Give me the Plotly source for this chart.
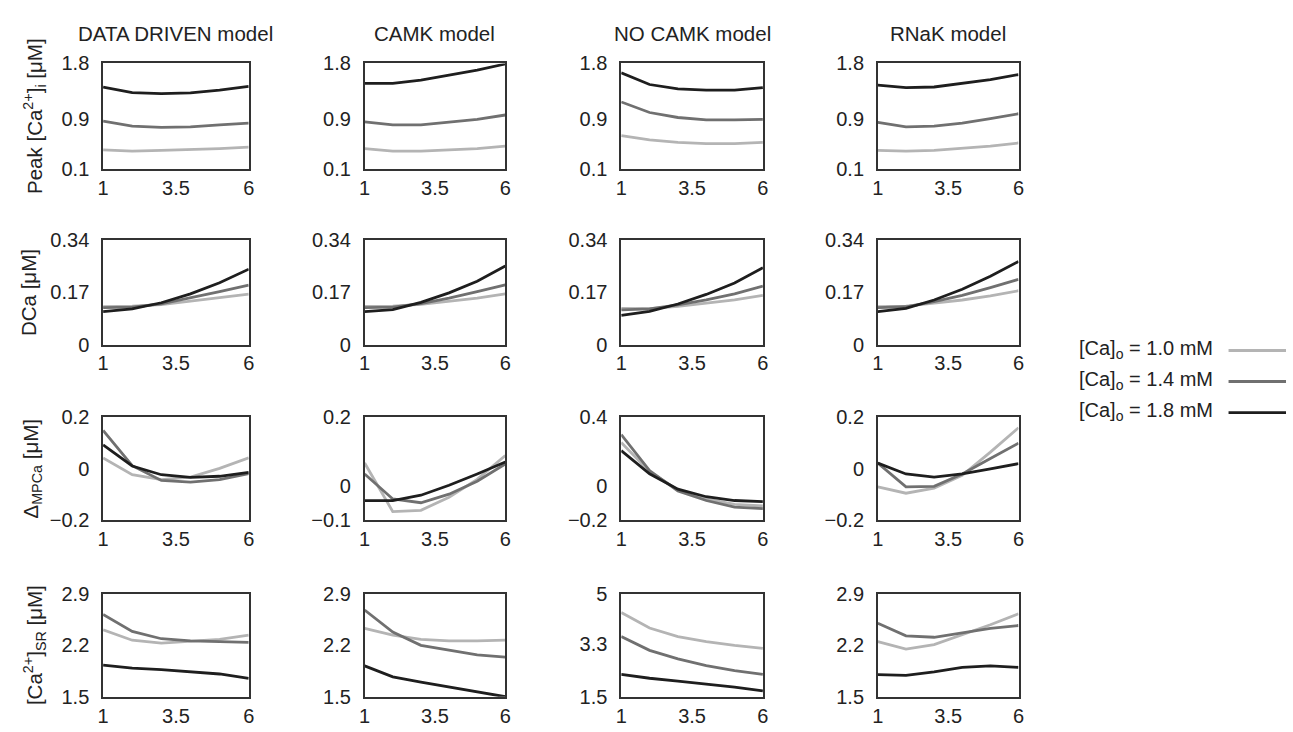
import plotly.graph_objects as go

W, H = 1293, 732
x_vals = [1, 2, 3, 4, 5, 6]
x_ticks = [1, 3.5, 6]
x_tick_labels = ["1", "3.5", "6"]

models = ["DATA DRIVEN model", "CAMK model", "NO CAMK model", "RNaK model"]
series_names = ["[Ca]<sub>o</sub> = 1.0 mM", "[Ca]<sub>o</sub> = 1.4 mM", "[Ca]<sub>o</sub> = 1.8 mM"]
series_colors = ["#b4b4b4", "#707070", "#1e1e1e"]

row_titles = ["Peak [Ca<sup>2+</sup>]<sub>i</sub> [μM]", "DCa [μM]",
              "Δ<sub>MPCa</sub> [μM]", "[Ca<sup>2+</sup>]<sub>SR</sub> [μM]"]

# Peak [Ca2+]i  (low, mid, high [Ca]o) per model
peak_dd = [[0.41, 0.39, 0.40, 0.41, 0.43, 0.455],
           [0.87, 0.79, 0.77, 0.78, 0.81, 0.84],
           [1.42, 1.33, 1.315, 1.325, 1.37, 1.43]]
peak_camk = [[0.43, 0.39, 0.39, 0.41, 0.43, 0.47],
             [0.86, 0.81, 0.81, 0.85, 0.90, 0.97],
             [1.48, 1.48, 1.53, 1.61, 1.69, 1.79]]
peak_nocamk = [[0.64, 0.57, 0.53, 0.51, 0.51, 0.53],
               [1.18, 1.01, 0.93, 0.89, 0.89, 0.90],
               [1.65, 1.46, 1.39, 1.37, 1.37, 1.41]]
peak_rnak = [[0.40, 0.39, 0.40, 0.43, 0.47, 0.52],
             [0.85, 0.78, 0.79, 0.84, 0.91, 0.99],
             [1.45, 1.41, 1.42, 1.48, 1.54, 1.62]]

# DCa
dca_dd = [[0.123, 0.125, 0.130, 0.141, 0.151, 0.164],
          [0.120, 0.122, 0.132, 0.151, 0.172, 0.193],
          [0.107, 0.116, 0.136, 0.165, 0.201, 0.245]]
dca_camk = [[0.124, 0.125, 0.131, 0.141, 0.151, 0.165],
            [0.120, 0.122, 0.133, 0.151, 0.172, 0.194],
            [0.107, 0.114, 0.137, 0.168, 0.206, 0.255]]
dca_nocamk = [[0.118, 0.117, 0.124, 0.134, 0.145, 0.160],
              [0.113, 0.116, 0.129, 0.145, 0.165, 0.190],
              [0.095, 0.108, 0.132, 0.163, 0.200, 0.250]]
dca_rnak = [[0.123, 0.125, 0.135, 0.145, 0.158, 0.175],
            [0.120, 0.123, 0.140, 0.160, 0.185, 0.212],
            [0.107, 0.118, 0.145, 0.180, 0.222, 0.270]]

# Delta MPCa
mpca_dd = [[0.042, -0.023, -0.042, -0.032, 0.002, 0.043],
           [0.149, 0.012, -0.045, -0.052, -0.042, -0.019],
           [0.093, 0.011, -0.023, -0.033, -0.029, -0.014]]
mpca_camk = [[0.067, -0.075, -0.071, -0.033, 0.019, 0.089],
             [0.035, -0.038, -0.049, -0.024, 0.014, 0.064],
             [-0.043, -0.043, -0.027, 0.002, 0.035, 0.070]]
mpca_nocamk = [[0.253, 0.084, -0.023, -0.076, -0.108, -0.117],
               [0.300, 0.090, -0.029, -0.085, -0.123, -0.132],
               [0.206, 0.071, -0.019, -0.063, -0.085, -0.091]]
mpca_rnak = [[-0.07, -0.095, -0.075, -0.025, 0.065, 0.160],
             [0.022, -0.070, -0.068, -0.020, 0.040, 0.100],
             [0.022, -0.020, -0.032, -0.020, 0.000, 0.020]]

# [Ca2+]SR
sr_dd = [[2.41, 2.27, 2.23, 2.25, 2.28, 2.34],
         [2.62, 2.39, 2.29, 2.26, 2.25, 2.24],
         [1.93, 1.89, 1.87, 1.84, 1.81, 1.75]]
sr_camk = [[2.43, 2.34, 2.28, 2.26, 2.26, 2.27],
           [2.68, 2.38, 2.20, 2.13, 2.07, 2.04],
           [1.92, 1.77, 1.70, 1.63, 1.57, 1.50]]
sr_nocamk = [[4.37, 3.84, 3.55, 3.38, 3.25, 3.15],
             [3.55, 3.08, 2.79, 2.56, 2.39, 2.26],
             [2.26, 2.13, 2.03, 1.93, 1.83, 1.70]]
sr_rnak = [[2.25, 2.15, 2.21, 2.34, 2.48, 2.63],
           [2.50, 2.33, 2.31, 2.37, 2.43, 2.47],
           [1.80, 1.79, 1.84, 1.90, 1.92, 1.90]]

data = [
    [peak_dd, peak_camk, peak_nocamk, peak_rnak],
    [dca_dd, dca_camk, dca_nocamk, dca_rnak],
    [mpca_dd, mpca_camk, mpca_nocamk, mpca_rnak],
    [sr_dd, sr_camk, sr_nocamk, sr_rnak],
]

y_ticks = [
    [[0.1, 0.9, 1.8]] * 4,
    [[0, 0.17, 0.34]] * 4,
    [[-0.2, 0, 0.2], [-0.1, 0, 0.2], [-0.2, 0, 0.4], [-0.2, 0, 0.2]],
    [[1.5, 2.2, 2.9], [1.5, 2.2, 2.9], [1.5, 3.3, 5], [1.5, 2.2, 2.9]],
]
y_tick_labels = [
    [["0.1", "0.9", "1.8"]] * 4,
    [["0", "0.17", "0.34"]] * 4,
    [["−0.2", "0", "0.2"], ["−0.1", "0", "0.2"], ["−0.2", "0", "0.4"], ["−0.2", "0", "0.2"]],
    [["1.5", "2.2", "2.9"], ["1.5", "2.2", "2.9"], ["1.5", "3.3", "5"], ["1.5", "2.2", "2.9"]],
]

# layout geometry (pixels)
col_px = [(98, 245), (362, 504), (621, 764), (880, 1022)]
row_px = [(54, 163), (236, 344), (419, 525), (601, 707)]
row_title_x = [29, 22, 26, 29]

FONT = "Liberation Sans, Arial, sans-serif"
TXT = "#222"
fig = go.Figure()
layout = dict(
    width=W, height=H, margin=dict(l=0, r=0, t=0, b=0),
    paper_bgcolor="white", plot_bgcolor="white", showlegend=False,
    font=dict(family=FONT, size=20, color=TXT),
)
annotations = []
shapes = []

for r in range(4):
    for c in range(4):
        idx = r * 4 + c + 1
        xa = "x" if idx == 1 else f"x{idx}"
        ya = "y" if idx == 1 else f"y{idx}"
        for s in range(3):
            fig.add_trace(go.Scatter(
                x=x_vals, y=data[r][c][s], mode="lines",
                line=dict(color=series_colors[s], width=2.8),
                xaxis=xa, yaxis=ya, showlegend=False, hoverinfo="skip"))
        x0, x1 = col_px[c]
        y0, y1 = row_px[r]
        yt = y_ticks[r][c]
        layout["xaxis" if idx == 1 else f"xaxis{idx}"] = dict(
            domain=[x0 / W, x1 / W], range=[1, 6], anchor=ya,
            tickvals=x_ticks, ticktext=x_tick_labels, ticks="",
            showgrid=False, zeroline=False, showline=True, mirror=True,
            linecolor="#333", linewidth=1.6, ticklabelstandoff=0,
            tickfont=dict(size=20, family=FONT, color=TXT))
        layout["yaxis" if idx == 1 else f"yaxis{idx}"] = dict(
            domain=[1 - y1 / H, 1 - y0 / H], range=[yt[0], yt[-1]], anchor=xa,
            tickvals=yt, ticktext=y_tick_labels[r][c], ticks="",
            showgrid=False, zeroline=False, showline=True, mirror=True,
            linecolor="#333", linewidth=1.6, ticklabelstandoff=8,
            tickfont=dict(size=20, family=FONT, color=TXT))

# column titles
for c, name in enumerate(models):
    x0, x1 = col_px[c]
    annotations.append(dict(
        x=(x0 + x1) / 2 / W, y=1 - 23 / H, xref="paper", yref="paper",
        text=name, showarrow=False, xanchor="center", yanchor="middle",
        font=dict(size=20.5, family=FONT, color=TXT)))

# row titles
for r, t in enumerate(row_titles):
    y0, y1 = row_px[r]
    annotations.append(dict(
        x=row_title_x[r] / W, y=1 - (y0 + y1) / 2 / H, xref="paper", yref="paper",
        text=t, showarrow=False, textangle=-90, xanchor="center", yanchor="middle",
        font=dict(size=20.5, family=FONT, color=TXT)))

# legend (text + line sample on the right)
leg_y = [349, 381, 413]
for s in range(3):
    annotations.append(dict(
        x=1220 / W, y=1 - leg_y[s] / H, xref="paper", yref="paper",
        text=series_names[s], showarrow=False, xanchor="right", yanchor="middle",
        font=dict(size=20, family=FONT, color=TXT)))
    shapes.append(dict(
        type="line", xref="paper", yref="paper",
        x0=1234 / W, x1=1292 / W, y0=1 - (leg_y[s] + 1) / H, y1=1 - (leg_y[s] + 1) / H,
        line=dict(color=series_colors[s], width=2.8)))

layout["annotations"] = annotations
layout["shapes"] = shapes
fig.update_layout(**layout)
fig.write_html("out.html")
